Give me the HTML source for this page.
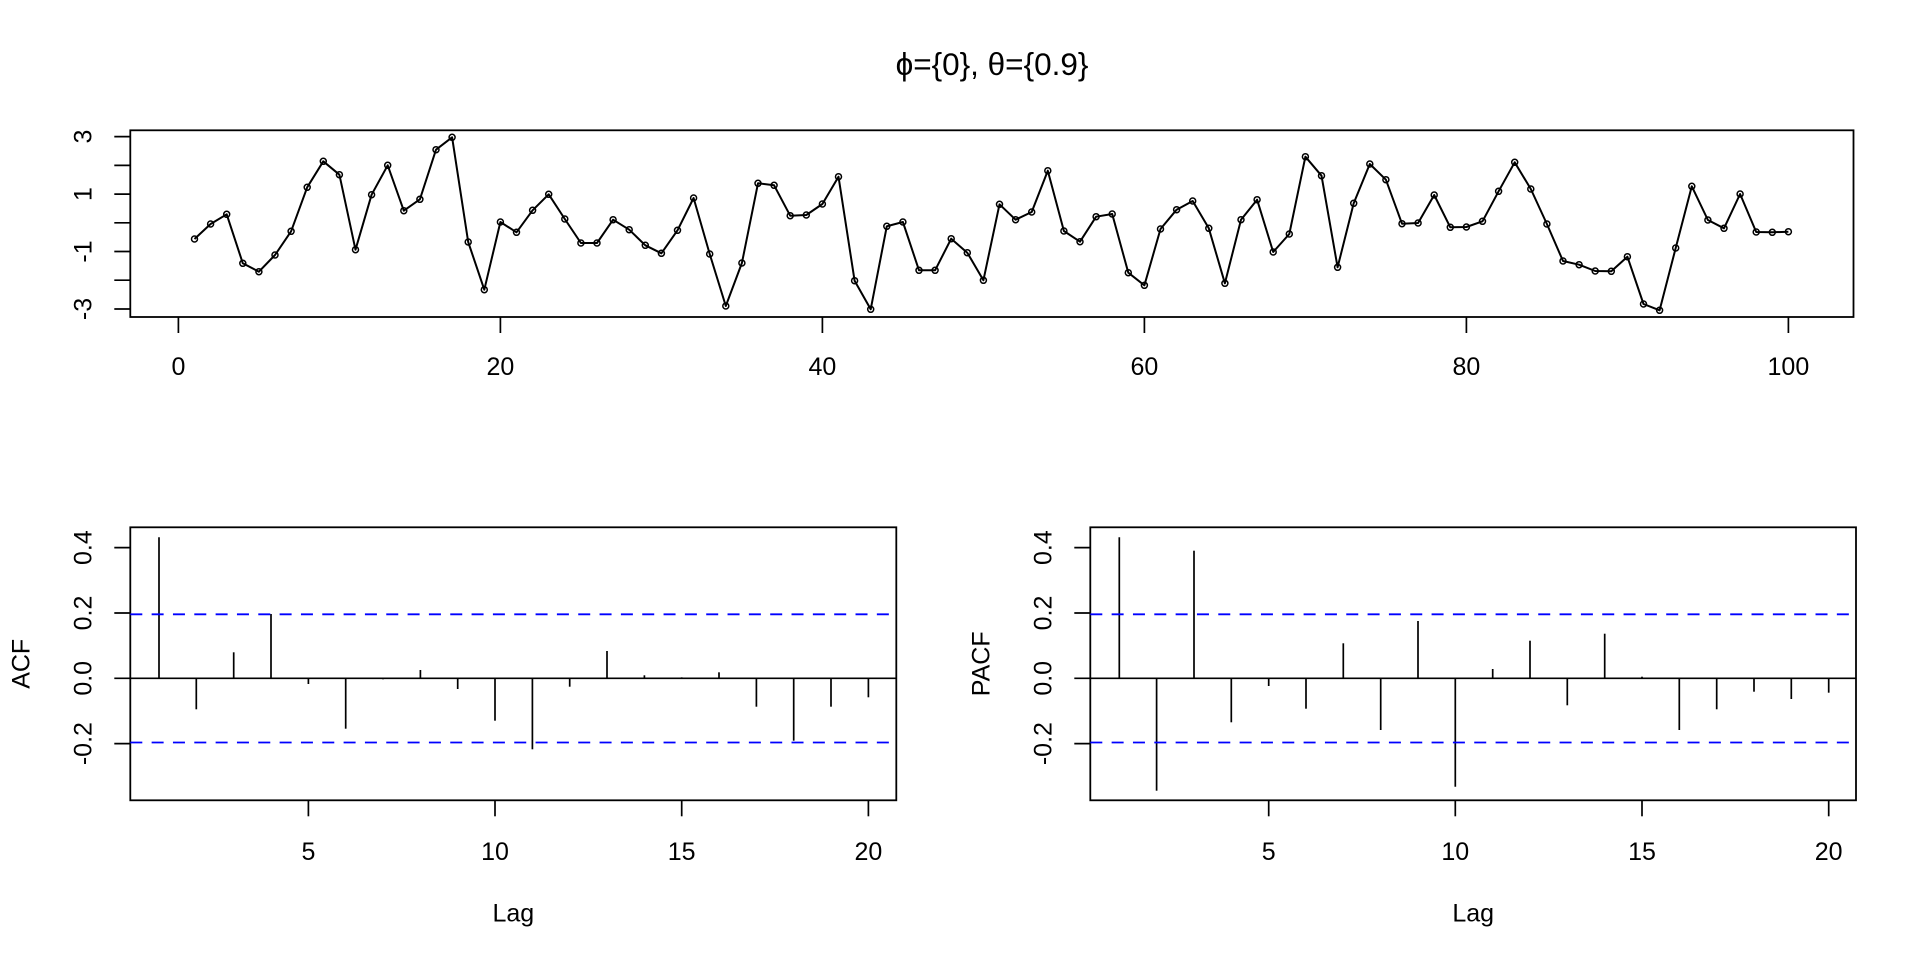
<!DOCTYPE html>
<html>
<head>
<meta charset="utf-8">
<style>
html,body{margin:0;padding:0;background:#fff;}
svg{display:block;}
text{font-family:"Liberation Sans",Arial,"DejaVu Sans",sans-serif;fill:#000;}
</style>
</head>
<body>
<svg width="1920" height="960" viewBox="0 0 1920 960" xmlns="http://www.w3.org/2000/svg">
<defs>
<marker id="pt" markerWidth="12" markerHeight="12" refX="6" refY="6" markerUnits="userSpaceOnUse" viewBox="0 0 12 12">
<circle cx="6" cy="6" r="3.0" fill="none" stroke="#000" stroke-width="1.5"/>
</marker>
</defs>
<rect x="0" y="0" width="1920" height="960" fill="#fff"/>

<!-- Title -->
<text x="992" y="75" font-size="31.5" text-anchor="middle">ϕ={0}, θ={0.9}</text>

<!-- ===== Top panel ===== -->
<rect x="130.3" y="130.3" width="1723.2" height="186.7" fill="none" stroke="#000" stroke-width="1.8"/>
<g stroke="#000" stroke-width="1.7">
<line x1="114.3" y1="136.6" x2="130.3" y2="136.6"/>
<line x1="114.3" y1="165.4" x2="130.3" y2="165.4"/>
<line x1="114.3" y1="194.1" x2="130.3" y2="194.1"/>
<line x1="114.3" y1="222.8" x2="130.3" y2="222.8"/>
<line x1="114.3" y1="251.5" x2="130.3" y2="251.5"/>
<line x1="114.3" y1="280.2" x2="130.3" y2="280.2"/>
<line x1="114.3" y1="309.0" x2="130.3" y2="309.0"/>
<line x1="178.4" y1="317" x2="178.4" y2="333"/>
<line x1="500.4" y1="317" x2="500.4" y2="333"/>
<line x1="822.4" y1="317" x2="822.4" y2="333"/>
<line x1="1144.4" y1="317" x2="1144.4" y2="333"/>
<line x1="1466.4" y1="317" x2="1466.4" y2="333"/>
<line x1="1788.4" y1="317" x2="1788.4" y2="333"/>
</g>
<g font-size="25" text-anchor="middle">
<text transform="translate(91.7,136.6) rotate(-90)">3</text>
<text transform="translate(91.7,194.1) rotate(-90)">1</text>
<text transform="translate(91.7,251.5) rotate(-90)">-1</text>
<text transform="translate(91.7,309.0) rotate(-90)">-3</text>
<text x="178.4" y="375">0</text>
<text x="500.4" y="375">20</text>
<text x="822.4" y="375">40</text>
<text x="1144.4" y="375">60</text>
<text x="1466.4" y="375">80</text>
<text x="1788.4" y="375">100</text>
</g>
<polyline fill="none" stroke="#000" stroke-width="2" stroke-linejoin="round"
marker-start="url(#pt)" marker-mid="url(#pt)" marker-end="url(#pt)"
points="194.5,239.0 210.6,224.0 226.7,214.3 242.8,263.3 258.9,271.7 275.0,255.0 291.1,231.3 307.2,187.3 323.3,161.3 339.4,174.7 355.5,249.7 371.6,194.7 387.7,165.3 403.8,210.7 419.9,199.3 436.0,149.7 452.1,137.3 468.2,242.0 484.3,289.7 500.4,222.0 516.5,232.3 532.6,210.3 548.7,194.3 564.8,219.0 580.9,243.0 597.0,243.0 613.1,219.7 629.2,229.7 645.3,245.3 661.4,253.3 677.5,230.3 693.6,198.0 709.7,254.0 725.8,306.0 741.9,263.0 758.0,183.3 774.1,185.3 790.2,215.7 806.3,215.0 822.4,204.0 838.5,176.7 854.6,280.7 870.7,309.3 886.8,226.3 902.9,222.0 919.0,270.3 935.1,270.3 951.2,238.7 967.3,252.7 983.4,280.3 999.5,204.3 1015.6,219.7 1031.7,212.0 1047.8,170.7 1063.9,231.0 1080.0,241.7 1096.1,216.7 1112.2,214.0 1128.3,272.7 1144.4,285.3 1160.5,229.0 1176.6,209.7 1192.7,201.0 1208.8,228.3 1224.9,283.3 1241.0,219.7 1257.1,199.7 1273.2,252.0 1289.3,234.0 1305.4,156.7 1321.5,175.7 1337.6,267.3 1353.7,203.3 1369.8,164.0 1385.9,179.7 1402.0,223.7 1418.1,223.0 1434.2,195.0 1450.3,227.3 1466.4,227.0 1482.5,221.3 1498.6,191.3 1514.7,162.3 1530.8,189.0 1546.9,224.0 1563.0,261.0 1579.1,264.7 1595.2,271.0 1611.3,271.3 1627.4,256.7 1643.5,304.0 1659.6,310.3 1675.7,248.0 1691.8,186.3 1707.9,220.0 1724.0,228.3 1740.1,194.0 1756.2,232.0 1772.3,232.3 1788.4,231.7"/>

<!-- ===== ACF panel ===== -->
<rect x="130.3" y="527.3" width="766" height="273" fill="none" stroke="#000" stroke-width="1.8"/>
<g stroke="#000" stroke-width="1.7">
<line x1="114.3" y1="547.6" x2="130.3" y2="547.6"/>
<line x1="114.3" y1="613.0" x2="130.3" y2="613.0"/>
<line x1="114.3" y1="678.3" x2="130.3" y2="678.3"/>
<line x1="114.3" y1="743.6" x2="130.3" y2="743.6"/>
<line x1="308.4" y1="800.3" x2="308.4" y2="816.3"/>
<line x1="495.0" y1="800.3" x2="495.0" y2="816.3"/>
<line x1="681.7" y1="800.3" x2="681.7" y2="816.3"/>
<line x1="868.4" y1="800.3" x2="868.4" y2="816.3"/>
<line x1="130.3" y1="678.3" x2="896.3" y2="678.3"/>
<line x1="159.0" y1="678.3" x2="159.0" y2="537.3"/>
<line x1="196.3" y1="678.3" x2="196.3" y2="709.3"/>
<line x1="233.7" y1="678.3" x2="233.7" y2="652.3"/>
<line x1="271.0" y1="678.3" x2="271.0" y2="614.0"/>
<line x1="308.4" y1="678.3" x2="308.4" y2="684.0"/>
<line x1="345.7" y1="678.3" x2="345.7" y2="728.7"/>
<line x1="383.0" y1="678.3" x2="383.0" y2="679.3"/>
<line x1="420.4" y1="678.3" x2="420.4" y2="670.0"/>
<line x1="457.7" y1="678.3" x2="457.7" y2="689.0"/>
<line x1="495.0" y1="678.3" x2="495.0" y2="720.7"/>
<line x1="532.4" y1="678.3" x2="532.4" y2="749.3"/>
<line x1="569.7" y1="678.3" x2="569.7" y2="686.7"/>
<line x1="607.0" y1="678.3" x2="607.0" y2="651.0"/>
<line x1="644.4" y1="678.3" x2="644.4" y2="675.3"/>
<line x1="681.7" y1="678.3" x2="681.7" y2="677.3"/>
<line x1="719.0" y1="678.3" x2="719.0" y2="672.3"/>
<line x1="756.4" y1="678.3" x2="756.4" y2="706.7"/>
<line x1="793.7" y1="678.3" x2="793.7" y2="740.7"/>
<line x1="831.0" y1="678.3" x2="831.0" y2="706.7"/>
<line x1="868.4" y1="678.3" x2="868.4" y2="697.3"/>
</g>
<g stroke="#0000FF" stroke-width="1.8" stroke-dasharray="12 9.33">
<line x1="130.3" y1="614.3" x2="896.3" y2="614.3"/>
<line x1="130.3" y1="742.5" x2="896.3" y2="742.5"/>
</g>
<g font-size="25" text-anchor="middle">
<text transform="translate(91.7,547.6) rotate(-90)">0.4</text>
<text transform="translate(91.7,613.0) rotate(-90)">0.2</text>
<text transform="translate(91.7,678.3) rotate(-90)">0.0</text>
<text transform="translate(91.7,743.6) rotate(-90)">-0.2</text>
<text x="308.4" y="860">5</text>
<text x="495.0" y="860">10</text>
<text x="681.7" y="860">15</text>
<text x="868.4" y="860">20</text>
<text x="513.3" y="921.7">Lag</text>
<text transform="translate(29.3,663.8) rotate(-90)">ACF</text>
</g>

<!-- ===== PACF panel ===== -->
<rect x="1090.3" y="527.3" width="765.7" height="273" fill="none" stroke="#000" stroke-width="1.8"/>
<g stroke="#000" stroke-width="1.7">
<line x1="1074.3" y1="547.6" x2="1090.3" y2="547.6"/>
<line x1="1074.3" y1="613.0" x2="1090.3" y2="613.0"/>
<line x1="1074.3" y1="678.3" x2="1090.3" y2="678.3"/>
<line x1="1074.3" y1="743.6" x2="1090.3" y2="743.6"/>
<line x1="1268.7" y1="800.3" x2="1268.7" y2="816.3"/>
<line x1="1455.3" y1="800.3" x2="1455.3" y2="816.3"/>
<line x1="1642.0" y1="800.3" x2="1642.0" y2="816.3"/>
<line x1="1828.7" y1="800.3" x2="1828.7" y2="816.3"/>
<line x1="1090.3" y1="678.3" x2="1856" y2="678.3"/>
<line x1="1119.3" y1="678.3" x2="1119.3" y2="537.3"/>
<line x1="1156.6" y1="678.3" x2="1156.6" y2="790.7"/>
<line x1="1194.0" y1="678.3" x2="1194.0" y2="550.7"/>
<line x1="1231.3" y1="678.3" x2="1231.3" y2="722.3"/>
<line x1="1268.7" y1="678.3" x2="1268.7" y2="686.0"/>
<line x1="1306.0" y1="678.3" x2="1306.0" y2="708.7"/>
<line x1="1343.3" y1="678.3" x2="1343.3" y2="643.3"/>
<line x1="1380.7" y1="678.3" x2="1380.7" y2="730.0"/>
<line x1="1418.0" y1="678.3" x2="1418.0" y2="621.0"/>
<line x1="1455.3" y1="678.3" x2="1455.3" y2="786.7"/>
<line x1="1492.7" y1="678.3" x2="1492.7" y2="669.0"/>
<line x1="1530.0" y1="678.3" x2="1530.0" y2="640.7"/>
<line x1="1567.3" y1="678.3" x2="1567.3" y2="705.3"/>
<line x1="1604.7" y1="678.3" x2="1604.7" y2="633.7"/>
<line x1="1642.0" y1="678.3" x2="1642.0" y2="676.7"/>
<line x1="1679.3" y1="678.3" x2="1679.3" y2="730.0"/>
<line x1="1716.7" y1="678.3" x2="1716.7" y2="709.3"/>
<line x1="1754.0" y1="678.3" x2="1754.0" y2="691.7"/>
<line x1="1791.3" y1="678.3" x2="1791.3" y2="699.0"/>
<line x1="1828.7" y1="678.3" x2="1828.7" y2="692.7"/>
</g>
<g stroke="#0000FF" stroke-width="1.8" stroke-dasharray="12 9.33">
<line x1="1090.3" y1="614.3" x2="1856" y2="614.3"/>
<line x1="1090.3" y1="742.5" x2="1856" y2="742.5"/>
</g>
<g font-size="25" text-anchor="middle">
<text transform="translate(1051.7,547.6) rotate(-90)">0.4</text>
<text transform="translate(1051.7,613.0) rotate(-90)">0.2</text>
<text transform="translate(1051.7,678.3) rotate(-90)">0.0</text>
<text transform="translate(1051.7,743.6) rotate(-90)">-0.2</text>
<text x="1268.7" y="860">5</text>
<text x="1455.3" y="860">10</text>
<text x="1642.0" y="860">15</text>
<text x="1828.7" y="860">20</text>
<text x="1473.2" y="921.7">Lag</text>
<text transform="translate(989.3,663.8) rotate(-90)">PACF</text>
</g>
</svg>
</body>
</html>
